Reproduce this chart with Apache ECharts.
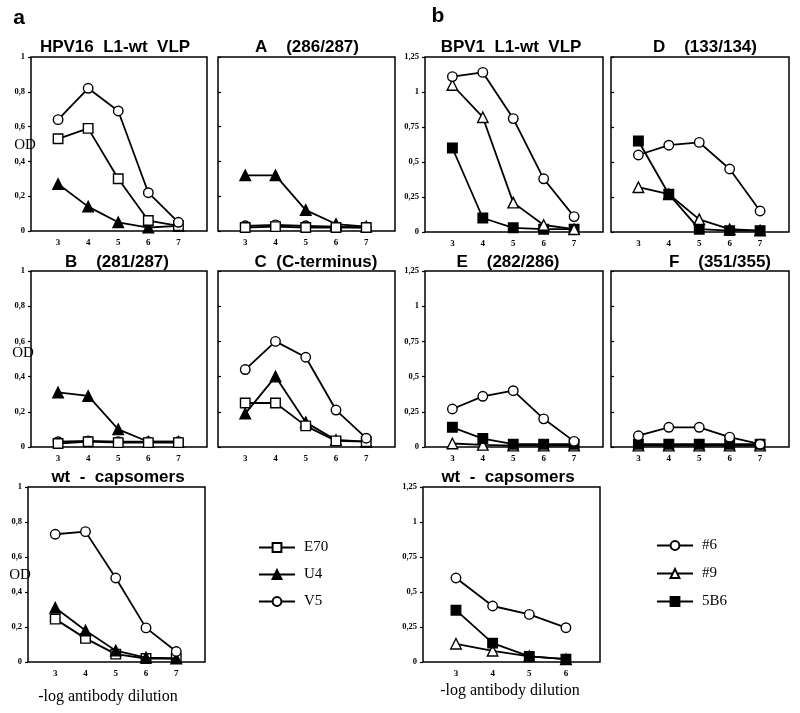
<!DOCTYPE html>
<html><head><meta charset="utf-8">
<script src="https://cdn.jsdelivr.net/npm/echarts@6/dist/echarts.min.js"></script>
<style>html,body{margin:0;padding:0;background:#fff}#c{width:800px;height:713px}</style>
</head><body><div id="c"></div>
<script>
// ---------- data ----------
const dilution = [3, 4, 5, 6, 7];
const dilutionCaps = [3, 4, 5, 6];
const yLabelsHPV = ['0', '0,2', '0,4', '0,6', '0,8', '1'];
const yLabelsBPV = ['0', '0,25', '0,5', '0,75', '1', '1,25'];

// panel a (HPV16; antibodies E70, U4, V5)
const hpvVlp_E70 = [0.53, 0.59, 0.30, 0.06, 0.03];
const hpvVlp_U4  = [0.27, 0.14, 0.05, 0.02, 0.03];
const hpvVlp_V5  = [0.64, 0.82, 0.69, 0.22, 0.05];
const mutA_E70 = [0.02, 0.025, 0.02, 0.02, 0.02];
const mutA_U4  = [0.32, 0.32, 0.12, 0.04, 0.025];
const mutA_V5  = [0.03, 0.035, 0.03, 0.025, 0.02];
const mutB_E70 = [0.02, 0.03, 0.025, 0.025, 0.025];
const mutB_U4  = [0.31, 0.29, 0.10, 0.03, 0.03];
const mutB_V5  = [0.03, 0.035, 0.03, 0.03, 0.03];
const mutC_E70 = [0.25, 0.25, 0.12, 0.035, 0.03];
const mutC_U4  = [0.19, 0.40, 0.14, 0.04, 0.03];
const mutC_V5  = [0.44, 0.60, 0.51, 0.21, 0.05];
const hpvCaps_E70 = [0.245, 0.135, 0.045, 0.02, 0.02];
const hpvCaps_U4  = [0.31, 0.18, 0.065, 0.025, 0.02];
const hpvCaps_V5  = [0.73, 0.745, 0.48, 0.195, 0.06];

// panel b (BPV1; antibodies #6, #9, 5B6)
const bpvVlp_6   = [1.11, 1.14, 0.81, 0.38, 0.11];
const bpvVlp_9   = [1.05, 0.82, 0.21, 0.05, 0.02];
const bpvVlp_5B6 = [0.60, 0.10, 0.03, 0.02, 0.02];
const mutD_6   = [0.55, 0.62, 0.64, 0.45, 0.15];
const mutD_9   = [0.32, 0.27, 0.09, 0.02, 0.01];
const mutD_5B6 = [0.65, 0.27, 0.02, 0.01, 0.01];
const mutE_6   = [0.27, 0.36, 0.40, 0.20, 0.04];
const mutE_9   = [0.025, 0.015, 0.01, 0.01, 0.01];
const mutE_5B6 = [0.14, 0.06, 0.02, 0.02, 0.02];
const mutF_6   = [0.08, 0.14, 0.14, 0.07, 0.02];
const mutF_9   = [0.01, 0.01, 0.01, 0.01, 0.01];
const mutF_5B6 = [0.02, 0.02, 0.02, 0.02, 0.02];
const bpvCaps_6   = [0.60, 0.40, 0.34, 0.245];
const bpvCaps_9   = [0.13, 0.08, 0.04, 0.02];
const bpvCaps_5B6 = [0.37, 0.135, 0.04, 0.02];

// ---------- layout / style ----------
const SER = '"Liberation Serif", "Times New Roman", serif';
const SANS = '"Liberation Sans", Arial, sans-serif';
const marker = {
  'E70': {symbol: 'rect', fill: '#fff', size: 9.5},
  'U4':  {symbol: 'triangle', fill: '#000', size: 10.5},
  'V5':  {symbol: 'circle', fill: '#fff', size: 9.5},
  '#6':  {symbol: 'circle', fill: '#fff', size: 9.5},
  '#9':  {symbol: 'triangle', fill: '#fff', size: 10.5},
  '5B6': {symbol: 'rect', fill: '#000', size: 9.5}
};
const panels = [
  {g: [31, 57, 176, 174], t: 'HPV16  L1-wt  VLP', tx: 115, ty: 47, hpv: true, lab: true, xs: dilution, xmax: 7.95,
   s: [['U4', hpvVlp_U4], ['E70', hpvVlp_E70], ['V5', hpvVlp_V5]]},
  {g: [218, 57, 177, 174], t: 'A    (286/287)', tx: 307, ty: 47, hpv: true, lab: false, xs: dilution, xmax: 7.95,
   s: [['U4', mutA_U4], ['V5', mutA_V5], ['E70', mutA_E70]]},
  {g: [425, 57, 178, 175], t: 'BPV1  L1-wt  VLP', tx: 511, ty: 47, hpv: false, lab: true, xs: dilution, xmax: 7.95,
   s: [['5B6', bpvVlp_5B6], ['#9', bpvVlp_9], ['#6', bpvVlp_6]]},
  {g: [611, 57, 178, 175], t: 'D    (133/134)', tx: 705, ty: 47, hpv: false, lab: false, xs: dilution, xmax: 7.95,
   s: [['#9', mutD_9], ['5B6', mutD_5B6], ['#6', mutD_6]]},
  {g: [31, 271, 176, 176], t: 'B    (281/287)', tx: 117, ty: 262, hpv: true, lab: true, xs: dilution, xmax: 7.95,
   s: [['U4', mutB_U4], ['V5', mutB_V5], ['E70', mutB_E70]]},
  {g: [218, 271, 177, 176], t: 'C  (C-terminus)', tx: 316, ty: 262, hpv: true, lab: false, xs: dilution, xmax: 7.95,
   s: [['U4', mutC_U4], ['E70', mutC_E70], ['V5', mutC_V5]]},
  {g: [425, 271, 178, 176], t: 'E    (282/286)', tx: 508, ty: 262, hpv: false, lab: true, xs: dilution, xmax: 7.95,
   s: [['#9', mutE_9], ['5B6', mutE_5B6], ['#6', mutE_6]]},
  {g: [611, 271, 178, 176], t: 'F    (351/355)', tx: 720, ty: 262, hpv: false, lab: false, xs: dilution, xmax: 7.95,
   s: [['#9', mutF_9], ['5B6', mutF_5B6], ['#6', mutF_6]]},
  {g: [28, 487, 177, 175], t: 'wt  -  capsomers', tx: 118, ty: 477, hpv: true, lab: true, xs: dilution, xmax: 7.95,
   s: [['E70', hpvCaps_E70], ['U4', hpvCaps_U4], ['V5', hpvCaps_V5]]},
  {g: [423, 487, 177, 175], t: 'wt  -  capsomers', tx: 508, ty: 477, hpv: false, lab: true, xs: dilutionCaps, xmax: 6.93,
   s: [['#9', bpvCaps_9], ['5B6', bpvCaps_5B6], ['#6', bpvCaps_6]]}
];

const grid = [], xAxis = [], yAxis = [], series = [], graphic = [];
function txt(x, y, text, size, family, weight) {
  graphic.push({type: 'text', x: x, y: y, silent: true, z: 10, style: {
    text: text, fill: '#000', fontSize: size, fontFamily: family, fontWeight: weight || 'normal',
    align: 'center', verticalAlign: 'middle', textAlign: 'center', textVerticalAlign: 'middle'}});
}
panels.forEach((p, i) => {
  grid.push({left: p.g[0], top: p.g[1], width: p.g[2], height: p.g[3], show: true,
    borderColor: '#000', borderWidth: 1.5, backgroundColor: 'transparent'});
  xAxis.push({type: 'value', gridIndex: i, min: 2.1, max: p.xmax,
    axisLine: {show: false}, axisTick: {show: false}, splitLine: {show: false},
    axisLabel: {customValues: p.xs, fontFamily: SER, fontWeight: 'bold', fontSize: 9, color: '#000', margin: 7}});
  const step = p.hpv ? 0.2 : 0.25;
  const labels = p.hpv ? yLabelsHPV : yLabelsBPV;
  yAxis.push({type: 'value', gridIndex: i, min: 0, max: p.hpv ? 1 : 1.25, interval: step,
    axisLine: {show: false}, splitLine: {show: false},
    axisTick: {show: true, inside: !p.lab, length: 3, lineStyle: {color: '#000', width: 1.2}},
    axisLabel: {show: p.lab, formatter: v => labels[Math.round(v / step)], fontFamily: SER,
      fontWeight: 'bold', fontSize: 8.5, color: '#000', margin: 6}});
  p.s.forEach(([name, vals], k) => {
    const m = marker[name];
    series.push({type: 'line', name: name, xAxisIndex: i, yAxisIndex: i, clip: false,
      data: p.xs.map((x, j) => [x, vals[j]]),
      symbol: m.symbol, symbolSize: m.size, showSymbol: true,
      itemStyle: {color: m.fill, borderColor: '#000', borderWidth: 1.4},
      lineStyle: {color: '#000', width: 1.8}, z: 2 + k});
  });
  txt(p.tx, p.ty, p.t, 17, SANS, 'bold');
});
txt(19, 18, 'a', 21, SANS, 'bold');
txt(438, 16, 'b', 21, SANS, 'bold');
txt(25, 145, 'OD', 15, SER);
txt(23, 353, 'OD', 15, SER);
txt(20, 575, 'OD', 15, SER);
txt(108, 697, '-log antibody dilution', 16, SER);
txt(510, 691, '-log antibody dilution', 16, SER);

const legendBase = {orient: 'vertical', itemWidth: 36, itemHeight: 11, itemGap: 12, selectedMode: false,
  textStyle: {fontFamily: SER, fontSize: 15, color: '#000', padding: [0, 0, 0, 4]}};
const option = {
  animation: false, backgroundColor: '#fff',
  grid, xAxis, yAxis, series, graphic,
  legend: [
    Object.assign({}, legendBase, {data: ['E70', 'U4', 'V5'], left: 253, top: 535}),
    Object.assign({}, legendBase, {data: ['#6', '#9', '5B6'], left: 651, top: 533, itemGap: 13})
  ]
};
echarts.init(document.getElementById('c')).setOption(option);
</script></body></html>
